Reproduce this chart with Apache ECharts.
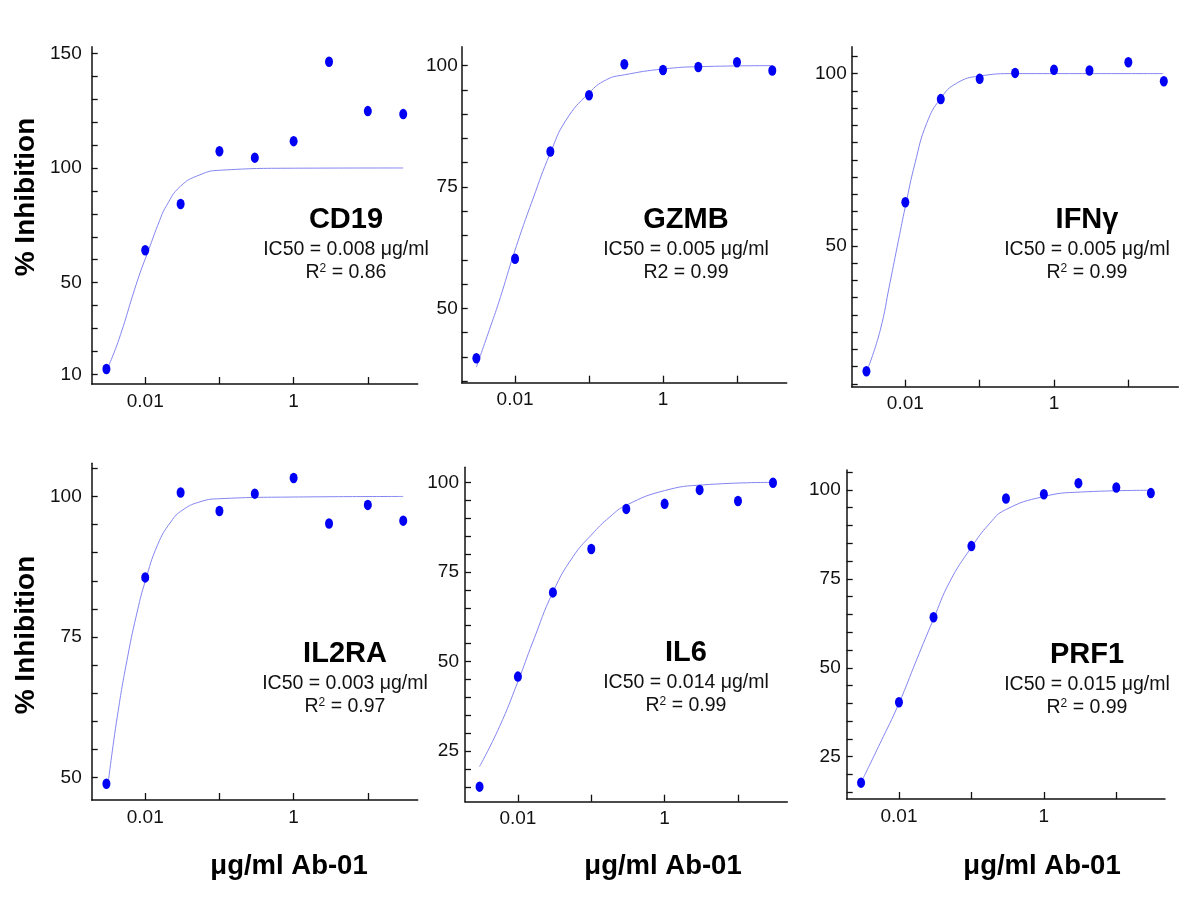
<!DOCTYPE html>
<html><head><meta charset="utf-8">
<script src="https://cdn.jsdelivr.net/npm/echarts@6/dist/echarts.min.js"></script>
<style>html,body{margin:0;padding:0;background:#fff}#c{width:1200px;height:900px}</style>
</head><body><div id="c"></div>
<script>
// ---- data ----
const conc = [0.003, 0.01, 0.03, 0.1, 0.3, 1, 3, 10, 30];

const cd19Values  = [12.3, 64.1, 84.3, 107.3, 104.5, 111.7, 146.3, 124.8, 123.5];
const gzmbValues  = [39.7, 60.2, 82.3, 93.9, 100.3, 99.1, 99.7, 100.7, 99.0];
const ifngValues  = [13.7, 62.7, 92.6, 98.5, 100.2, 101.1, 100.9, 103.3, 97.8];
const il2raValues = [48.9, 85.6, 100.7, 97.4, 100.5, 103.3, 95.2, 98.5, 95.7];
const il6Values   = [15.1, 45.8, 69.3, 81.4, 92.6, 94.0, 97.9, 94.8, 99.9];
const prf1Values  = [17.7, 40.3, 64.2, 84.2, 97.6, 98.8, 101.9, 100.7, 99.1];

// fitted curves
const cd19FitX  = [0.0032, 0.0044, 0.0079, 0.0111, 0.0156, 0.0193, 0.0298, 0.0545, 0.1, 1, 30];
const cd19FitY  = [13.6, 25.0, 51.1, 64.2, 77.0, 83.5, 92.0, 97.0, 99.0, 99.9, 100];
const gzmbFitX  = [0.003, 0.0045, 0.0061, 0.01, 0.0174, 0.03, 0.049, 0.099, 0.172, 0.3, 1, 3.3, 30];
const gzmbFitY  = [37.9, 45.6, 51.5, 62.0, 72.5, 82.0, 88.8, 94.3, 97.1, 98.1, 99.3, 99.8, 100];
const ifngFitX  = [0.0032, 0.0046, 0.0062, 0.0081, 0.01, 0.0135, 0.0194, 0.0299, 0.049, 0.1, 0.3, 29.5];
const ifngFitY  = [15.0, 25.6, 39.2, 51.7, 61.4, 74.0, 85.6, 92.8, 97.2, 99.3, 100, 100];
const il2raFitX = [0.0032, 0.0042, 0.0058, 0.0079, 0.01, 0.0147, 0.0222, 0.032, 0.0565, 0.1, 1, 30];
const il2raFitY = [49.5, 60.8, 71.5, 79.8, 84.9, 91.4, 95.5, 97.6, 99.1, 99.6, 99.9, 100];
const il6FitX   = [0.003, 0.0056, 0.01, 0.016, 0.0302, 0.0566, 0.1, 0.18, 0.305, 1, 3.35, 30.5];
const il6FitY   = [20.7, 31.8, 44.4, 55.5, 69.5, 79.3, 85.3, 90.4, 93.7, 97.7, 99.3, 100];
const prf1FitX  = [0.0032, 0.0055, 0.01, 0.0175, 0.0296, 0.0503, 0.098, 0.179, 0.294, 0.98, 3.2, 28.8];
const prf1FitY  = [18.9, 28.8, 40.0, 52.2, 63.4, 74.2, 83.6, 90.6, 94.4, 98.1, 99.4, 99.9];

// tick labels
const xTickValues  = [0.01, 0.1, 1, 10];
const xLabelValues = [0.01, 1];
const cd19TickValues  = [10, 20, 30, 40, 50, 60, 70, 80, 90, 100, 110, 120, 130, 140, 150];
const cd19LabelValues = [10, 50, 100, 150];
const gzmbTickValues  = [35, 40, 45, 50, 55, 60, 65, 70, 75, 80, 85, 90, 95, 100];
const gzmbLabelValues = [50, 75, 100];
const ifngTickValues  = [10, 15, 20, 25, 30, 35, 40, 45, 50, 55, 60, 65, 70, 75, 80, 85, 90, 95, 100, 105];
const ifngLabelValues = [50, 100];
const il2raTickValues  = [50, 55, 60, 65, 70, 75, 80, 85, 90, 95, 100, 105];
const il2raLabelValues = [50, 75, 100];
const il6TickValues  = [15, 20, 25, 30, 35, 40, 45, 50, 55, 60, 65, 70, 75, 80, 85, 90, 95, 100];
const il6LabelValues = [25, 50, 75, 100];
const prf1TickValues  = [15, 20, 25, 30, 35, 40, 45, 50, 55, 60, 65, 70, 75, 80, 85, 90, 95, 100, 105];
const prf1LabelValues = [25, 50, 75, 100];

const geneNames = ['CD19', 'GZMB', 'IFNγ', 'IL2RA', 'IL6', 'PRF1'];
const ic50Texts = ['0.008', '0.005', '0.005', '0.003', '0.014', '0.015'];
const r2Texts   = ['0.86', '0.99', '0.99', '0.97', '0.99', '0.99'];
const r2Super   = [true, false, true, true, true, true];
const yAxisTitle = '% Inhibition';
const xAxisTitle = 'μg/ml Ab-01';

// ---- layout ----
const FONT = '"Liberation Sans", Arial, sans-serif';
const panels = [
  {vals: cd19Values,  fx: cd19FitX,  fy: cd19FitY,  ticks: cd19TickValues,  labels: cd19LabelValues,
   g: {left: 91.7, top: 46.7, width: 326, height: 337.3}, yMin: 5.77, yMax: 152.9, lm: 10, tx: 346, ty: 220},
  {vals: gzmbValues,  fx: gzmbFitX,  fy: gzmbFitY,  ticks: gzmbTickValues,  labels: gzmbLabelValues,
   g: {left: 461.7, top: 46.7, width: 325, height: 336}, yMin: 34.68, yMax: 103.9, lm: 4, tx: 686, ty: 220},
  {vals: ifngValues,  fx: ifngFitX,  fy: ifngFitY,  ticks: ifngTickValues,  labels: ifngLabelValues,
   g: {left: 851.7, top: 46.7, width: 326.6, height: 340}, yMin: 9.2, yMax: 107.8, lm: 5, tx: 1087, ty: 220},
  {vals: il2raValues, fx: il2raFitX, fy: il2raFitY, ticks: il2raTickValues, labels: il2raLabelValues,
   g: {left: 91.7, top: 463.3, width: 326, height: 336.7}, yMin: 46.0, yMax: 105.9, lm: 10, tx: 345, ty: 654},
  {vals: il6Values,   fx: il6FitX,   fy: il6FitY,   ticks: il6TickValues,   labels: il6LabelValues,
   g: {left: 465, top: 467.3, width: 322.3, height: 334.4}, yMin: 10.9, yMax: 104.2, lm: 6, tx: 686, ty: 653},
  {vals: prf1Values,  fx: prf1FitX,  fy: prf1FitY,  ticks: prf1TickValues,  labels: prf1LabelValues,
   g: {left: 846.7, top: 470, width: 318.3, height: 329}, yMin: 13.1, yMax: 105.6, lm: 6, tx: 1087, ty: 655}
];

const fmtX = v => v >= 1 ? String(Math.round(v)) : String(+(+v).toPrecision(3));

const grid = [], xAxis = [], yAxis = [], series = [], graphic = [];
panels.forEach((p, i) => {
  grid.push(Object.assign({containLabel: false}, p.g));
  xAxis.push({
    type: 'log', logBase: 10, gridIndex: i, min: 0.0019, max: 47,
    axisLine: {onZero: false, lineStyle: {color: '#111', width: 1.5}},
    axisTick: {show: true, inside: true, length: 7, customValues: xTickValues, lineStyle: {color: '#111', width: 1.3}},
    axisLabel: {customValues: xLabelValues, formatter: fmtX, fontSize: 19, color: '#111', fontFamily: FONT, margin: 8},
    splitLine: {show: false}, minorTick: {show: false}
  });
  yAxis.push({
    type: 'value', gridIndex: i, min: p.yMin, max: p.yMax,
    axisLine: {show: true, onZero: false, lineStyle: {color: '#111', width: 1.5}},
    axisTick: {show: true, inside: true, length: 6, customValues: p.ticks, lineStyle: {color: '#111', width: 1.3}},
    axisLabel: {customValues: p.labels, fontSize: 19, color: '#111', fontFamily: FONT, margin: p.lm},
    splitLine: {show: false}
  });
  series.push({
    type: 'line', xAxisIndex: i, yAxisIndex: i, data: p.fx.map((x, k) => [x, p.fy[k]]),
    smooth: 0.5, showSymbol: false, symbol: 'none', silent: true,
    lineStyle: {color: '#8585f2', width: 1}, z: 2
  });
  series.push({
    type: 'scatter', xAxisIndex: i, yAxisIndex: i, data: conc.map((c, k) => [c, p.vals[k]]),
    symbol: 'circle', symbolSize: [8, 10.5], itemStyle: {color: '#0000f5', opacity: 1}, z: 3
  });
  // annotations
  graphic.push({type: 'text', x: p.tx, y: p.ty, style: {
    text: geneNames[i], font: 'bold 29px ' + FONT, fill: '#000', align: 'center', verticalAlign: 'middle'}});
  graphic.push({type: 'text', x: p.tx, y: p.ty + 29.5, style: {
    text: 'IC50 = ' + ic50Texts[i] + ' μg/ml', font: '19.5px ' + FONT, fill: '#111', align: 'center', verticalAlign: 'middle'}});
  graphic.push({type: 'text', x: p.tx, y: p.ty + 53, style: {
    text: r2Super[i] ? 'R{sup|2} = ' + r2Texts[i] : 'R2 = ' + r2Texts[i],
    font: '19.5px ' + FONT, fill: '#111', align: 'center', verticalAlign: 'middle',
    rich: {sup: {fontSize: 12, fontFamily: FONT, verticalAlign: 'top', fill: '#111'}}}});
});
// axis titles
[197, 635].forEach(cy => graphic.push({type: 'text', x: 26, y: cy, rotation: Math.PI / 2, style: {
  text: yAxisTitle, font: 'bold 28px ' + FONT, fill: '#000', align: 'center', verticalAlign: 'middle'}}));
[289, 663, 1042].forEach(cx => graphic.push({type: 'text', x: cx, y: 866, style: {
  text: xAxisTitle, font: 'bold 27.5px ' + FONT, fill: '#000', align: 'center', verticalAlign: 'middle'}}));

const chart = echarts.init(document.getElementById('c'), null, {renderer: 'canvas'});
chart.setOption({backgroundColor: '#fff', animation: false, grid, xAxis, yAxis, series, graphic});
</script></body></html>
